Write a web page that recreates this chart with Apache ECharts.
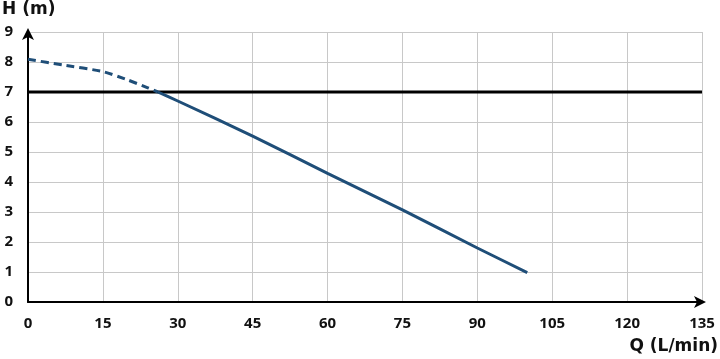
<!DOCTYPE html>
<html><head><meta charset="utf-8">
<script src="https://cdn.jsdelivr.net/npm/echarts@6/dist/echarts.min.js"></script>
<style>html,body{margin:0;padding:0;background:#fff}#c{width:720px;height:359px}</style>
</head><body><div id="c"></div>
<script>
var xTicks = [0, 15, 30, 45, 60, 75, 90, 105, 120, 135];
var yTicks = [0, 1, 2, 3, 4, 5, 6, 7, 8, 9];
var curveDashed = [[0, 8.09], [7, 7.9], [15, 7.68], [20, 7.4], [24, 7.14], [26, 7.0]];
var curveSolid = [[26, 7.0], [30, 6.7], [45, 5.53], [60, 4.29], [75, 3.07], [90, 1.8], [100, 0.98]];
var refLine = [[0, 7], [135, 7]];
var xName = 'Q (L/min)';
var yName = 'H (m)';

var font = '"Open Sans", Lato, sans-serif';
var titleFont = '"DejaVu Sans", sans-serif';
var chart = echarts.init(document.getElementById('c'));
chart.setOption({
  animation: false,
  grid: {left: 28, right: 18, top: 32, bottom: 57},
  xAxis: {
    type: 'value', min: 0, max: 135, interval: 15,
    axisLine: {show: true, lineStyle: {color: '#000', width: 2}, symbol: ['none', 'arrow'], symbolSize: [9, 12], symbolOffset: [0, 4]},
    axisTick: {show: false},
    splitLine: {show: true, lineStyle: {color: '#c8c8c8', width: 1}},
    axisLabel: {color: '#111', fontFamily: font, fontWeight: 'bold', fontSize: 15, margin: 14,
      formatter: function (v) { return xTicks.indexOf(v) >= 0 ? String(v) : ''; }}
  },
  yAxis: {
    type: 'value', min: 0, max: 9, interval: 1,
    axisLine: {show: true, lineStyle: {color: '#000', width: 2}, symbol: ['none', 'arrow'], symbolSize: [9, 12], symbolOffset: [0, 4]},
    axisTick: {show: false},
    splitLine: {show: true, lineStyle: {color: '#c8c8c8', width: 1}},
    axisLabel: {color: '#111', fontFamily: font, fontWeight: 'bold', fontSize: 15, margin: 15,
      formatter: function (v) { return yTicks.indexOf(v) >= 0 ? String(v) : ''; }}
  },
  graphic: [
    {type: 'text', left: 2, top: 1, style: {text: yName, font: 'bold 17px ' + titleFont, fill: '#111'}},
    {type: 'text', right: 2, top: 338, style: {text: xName, font: 'bold 17px ' + titleFont, fill: '#111'}}
  ],
  series: [
    {type: 'line', data: refLine, symbol: 'none', lineStyle: {color: '#000', width: 3}, z: 3},
    {type: 'line', data: curveDashed, symbol: 'none', smooth: 0.2, lineStyle: {color: '#1f4e78', width: 3, type: [8, 5]}, z: 4},
    {type: 'line', data: curveSolid, symbol: 'none', smooth: 0.2, lineStyle: {color: '#1f4e78', width: 3}, z: 4}
  ]
});
</script></body></html>
